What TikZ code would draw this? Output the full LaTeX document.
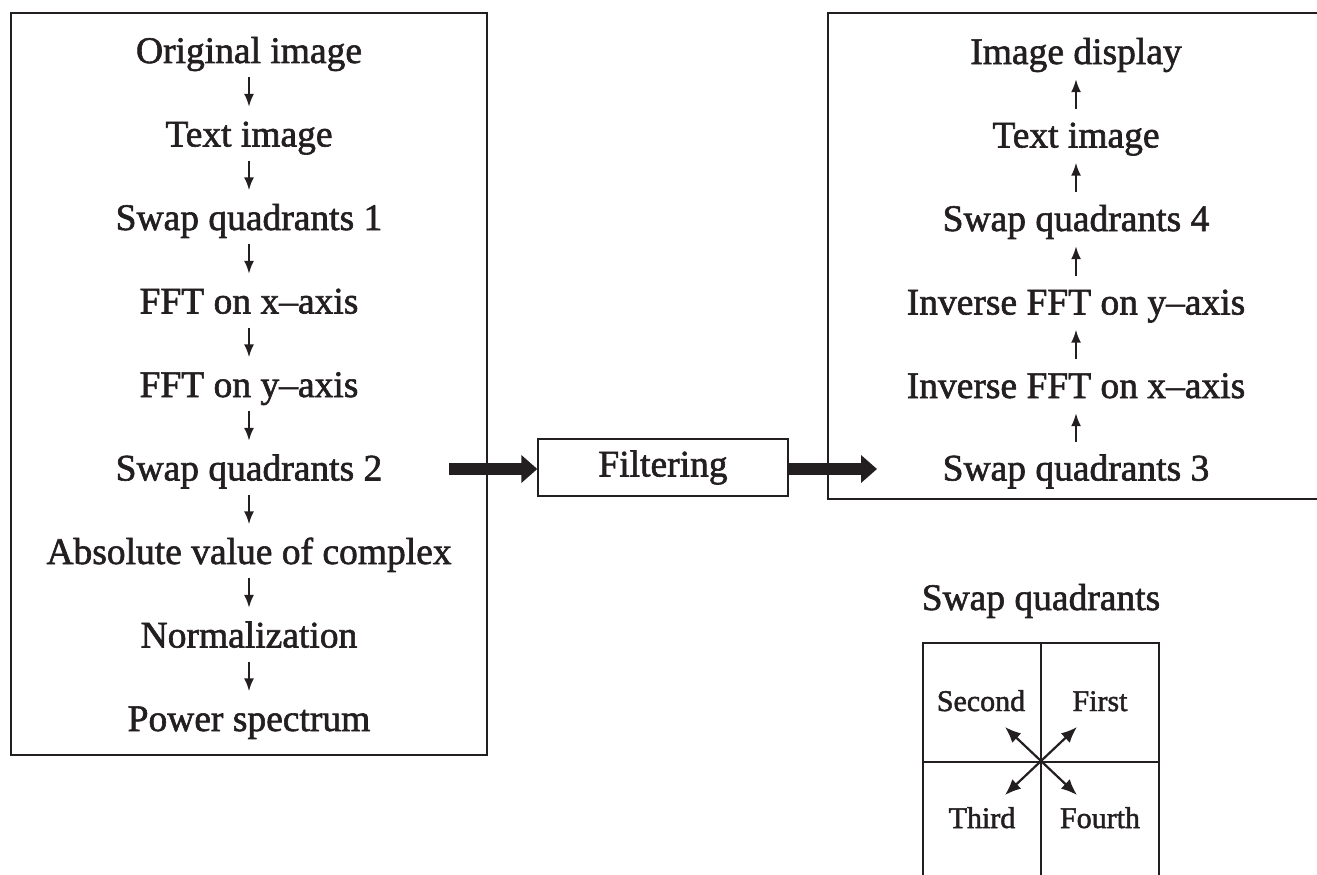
\documentclass[tikz,border=0pt]{standalone}
\usepackage{fontspec}
\setmainfont{Liberation Serif}[RawFeature={embolden=1.6}]
\usetikzlibrary{arrows.meta}
\definecolor{ink}{RGB}{35,31,32}
\tikzset{
  lbl/.style={anchor=base, inner sep=0pt, text height=24.5pt, text depth=0pt, font=\fontsize{37.5}{40}\selectfont, text=ink},
  qlbl/.style={anchor=base, inner sep=0pt, font=\fontsize{30}{34}\selectfont, text=ink},
  frame/.style={draw=ink, line width=1.3pt},
  thin/.style={draw=ink, line width=2pt, -{Latex[length=13pt,width=10pt]}, shorten <=14pt, shorten >=15pt},
  fat/.style={draw=ink, line width=12pt, -{Triangle[length=16pt,width=27pt]}},
  dbl/.style={draw=ink, line width=2.2pt, {Latex[length=16pt,width=13pt]}-{Latex[length=16pt,width=13pt]}}
}
\begin{document}
\begin{tikzpicture}[x=1pt,y=-1pt]
\useasboundingbox (0,0) rectangle (1317,875);
% left box
\draw[frame] (11,13) rectangle (487,755);
\node[lbl] (l1) at (249,63) {Original image};
\node[lbl] (l2) at (249,146.5) {Text image};
\node[lbl] (l3) at (249,230) {Swap quadrants 1};
\node[lbl] (l4) at (249,313.5) {FFT on x–axis};
\node[lbl] (l5) at (249,397) {FFT on y–axis};
\node[lbl] (l6) at (249,480.5) {Swap quadrants 2};
\node[lbl] (l7) at (249,564) {Absolute value of complex};
\node[lbl] (l8) at (249,647.5) {Normalization};
\node[lbl] (l9) at (249,731) {Power spectrum};
\foreach \a/\b in {l1/l2,l2/l3,l3/l4,l4/l5,l5/l6,l6/l7,l7/l8,l8/l9}
  \draw[thin] (\a.south) -- (\b.north);
% right box
\draw[frame] (1320,13) -- (828,13) -- (828,499) -- (1320,499);
\node[lbl] (r1) at (1076,64) {Image display};
\node[lbl] (r2) at (1076,147.5) {Text image};
\node[lbl] (r3) at (1076,231) {Swap quadrants 4};
\node[lbl] (r4) at (1076,314.5) {Inverse FFT on y–axis};
\node[lbl] (r5) at (1076,398) {Inverse FFT on x–axis};
\node[lbl] (r6) at (1076,480.5) {Swap quadrants 3};
\foreach \a/\b in {r6/r5,r5/r4,r4/r3,r3/r2,r2/r1}
  \draw[thin] (\a.north) -- (\b.south);
% filtering
\node[frame, minimum width=250pt, minimum height=57pt, inner sep=0pt, font=\fontsize{37.5}{40}\selectfont, text=ink] (flt) at (663,467.5) {Filtering};
\coordinate (fs) at (449,469);
\coordinate (fe) at (877,469);
\draw[fat] (fs) -- (flt.west |- fs);
\draw[fat] (flt.east |- fe) -- (fe);
% swap quadrants
\node[lbl] (sq) at (1041,610) {Swap quadrants};
\coordinate (qc) at (1041,762);
\draw[frame] (923,880) -- (923,643) -- (1159,643) -- (1159,880);
\draw[frame] (1041,643) -- (1041,880);
\draw[frame] (923,762) -- (1159,762);
\node[qlbl] (q2) at (981,711) {Second};
\node[qlbl] (q1) at (1100,711) {First};
\node[qlbl] (q3) at (982,828) {Third};
\node[qlbl] (q4) at (1100,828) {Fourth};
\coordinate (a2) at (1005,727);
\coordinate (a1) at (1077,727);
\coordinate (a3) at (1005,795);
\coordinate (a4) at (1077,795);
\draw[dbl] (a2) -- (a4);
\draw[dbl] (a1) -- (a3);
\end{tikzpicture}
\end{document}
